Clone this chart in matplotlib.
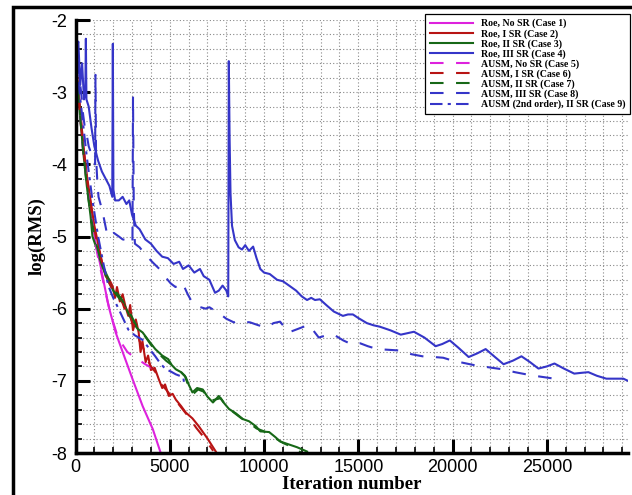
import matplotlib
matplotlib.use('Agg')
import matplotlib.pyplot as plt
from matplotlib.patches import Rectangle
from matplotlib.ticker import MultipleLocator

plt.rcParams['axes.unicode_minus'] = False

# ---- data (iteration, log(RMS)) ----
c1_x = [0, 200, 400, 600, 800, 1060, 1330, 1550, 1760, 2130, 2500, 3030, 3560, 4100, 4520]
c1_y = [-2.5, -3.1, -3.7, -4.2, -4.6, -5.08, -5.41, -5.7, -5.97, -6.33, -6.6, -6.98, -7.35, -7.67, -8.0]

c2_x = [0, 200, 400, 600, 800, 1000, 1200, 1400, 1600, 1800, 1970, 2100, 2200, 2350, 2500, 2650,
        2800, 2900, 3050, 3200, 3350, 3450, 3550, 3720, 3850, 4000, 4200, 4420, 4600, 4750, 4950,
        5150, 5320, 5600, 5850, 6200, 6540, 7000, 7440]
c2_y = [-2.6, -3.1, -3.7, -4.15, -4.5, -4.85, -5.1, -5.35, -5.55, -5.6, -5.69, -5.85, -5.7, -5.9, -5.8, -5.97,
        -6.1, -5.95, -6.3, -6.15, -6.33, -6.6, -6.45, -6.74, -6.65, -6.85, -6.82, -6.98, -7.1, -7.05, -7.21,
        -7.18, -7.26, -7.35, -7.44, -7.52, -7.63, -7.8, -7.98]

c3_x = [0, 200, 400, 600, 800, 900, 1100, 1400, 1700, 2000, 2300, 2600, 3030, 3300, 3560, 3900, 4230,
        4600, 4920, 5100, 5320, 5600, 5850, 6000, 6200, 6450, 6750, 7000, 7290, 7600, 7850, 8140, 8500,
        8880, 9200, 9570, 9800, 10270, 10600, 10850, 11300, 11750, 12280]
c3_y = [-2.5, -3.2, -3.8, -4.3, -4.72, -5.0, -5.15, -5.4, -5.6, -5.75, -5.85, -5.95, -6.19, -6.28, -6.33, -6.45, -6.56,
        -6.65, -6.7, -6.78, -6.84, -6.88, -6.95, -7.05, -7.16, -7.1, -7.12, -7.22, -7.3, -7.21, -7.3, -7.39, -7.45,
        -7.53, -7.56, -7.63, -7.7, -7.71, -7.78, -7.84, -7.88, -7.92, -7.98]

c4_x = [0, 80, 150, 250, 350, 450, 520, 550, 580, 700, 850, 1000, 1200, 1400, 1600, 1800, 1950, 1980, 2010,
        2100, 2300, 2500, 2700, 2850, 3000, 3200, 3400, 3700, 4000, 4300, 4600, 4900, 5200, 5500, 5700,
        6000, 6300, 6600, 6800, 7100, 7400, 7600, 7800, 8000, 8100, 8130, 8170, 8220, 8300, 8450, 8650,
        8830, 9000, 9200, 9420, 9600, 9800, 10000, 10300, 10690, 11000, 11380, 11700, 12000, 12280, 12500,
        12700, 12960, 13300, 13700, 14180, 14450, 14710, 15000, 15450, 15800, 16140, 16700, 17250, 17600,
        17950, 18500, 19100, 19450, 19850, 20300, 20850, 21300, 21750, 22200, 22700, 23200, 23650, 24100,
        24550, 25000, 25400, 25900, 26450, 26800, 27200, 27650, 28150, 28600, 29050, 29300]
c4_y = [-2.1, -2.4, -2.3, -2.9, -2.6, -3.1, -3.0, -2.26, -3.1, -3.2, -3.5, -3.75, -3.95, -4.1, -4.2, -4.3, -4.45, -2.33, -4.35,
        -4.5, -4.5, -4.45, -4.55, -4.5, -4.7, -4.85, -4.9, -5.04, -5.1, -5.2, -5.28, -5.3, -5.38, -5.35, -5.45,
        -5.4, -5.5, -5.45, -5.55, -5.6, -5.78, -5.75, -5.68, -5.75, -5.83, -2.57, -3.6, -4.4, -4.85, -5.05, -5.15,
        -5.18, -5.12, -5.2, -5.14, -5.3, -5.45, -5.5, -5.52, -5.6, -5.62, -5.69, -5.75, -5.83, -5.88, -5.85,
        -5.88, -5.87, -5.95, -6.04, -6.1, -6.08, -6.08, -6.13, -6.2, -6.23, -6.25, -6.3, -6.36, -6.34,
        -6.32, -6.4, -6.52, -6.49, -6.44, -6.54, -6.67, -6.62, -6.56, -6.66, -6.77, -6.72, -6.66, -6.74,
        -6.83, -6.8, -6.76, -6.83, -6.9, -6.89, -6.88, -6.93, -6.97, -6.97, -6.97, -7.0]

c5_x = [0, 200, 400, 600, 800, 1000, 1200, 1450, 1700, 1950, 2230, 2500, 2750, 3000, 3300, 3700, 4100, 4660]
c5_y = [-2.6, -3.2, -3.8, -4.25, -4.65, -5.0, -5.3, -5.6, -5.9, -6.15, -6.38, -6.5, -6.6, -6.65, -6.7, -6.77, -6.83, -6.92]

c6_x = [0, 200, 400, 600, 800, 1000, 1200, 1400, 1600, 1800, 2000, 2200, 2400, 2600, 2800, 3000, 3200,
        3400, 3600, 3800, 4000, 4300, 4550, 4800, 5100, 5400, 5700, 6000, 6400, 6800, 7300]
c6_y = [-2.7, -3.2, -3.75, -4.2, -4.55, -4.9, -5.15, -5.35, -5.5, -5.65, -5.75, -5.8, -5.85, -6.0, -5.95, -6.2, -6.25,
        -6.45, -6.55, -6.7, -6.8, -6.9, -7.05, -7.12, -7.22, -7.3, -7.4, -7.5, -7.65, -7.78, -7.97]

c7_x = [0, 200, 400, 600, 800, 1000, 1300, 1600, 2000, 2400, 2800, 3200, 3600, 4000, 4400, 4800, 5200,
        5600, 5800, 6000, 6250, 6500, 6800, 7100, 7400, 7700, 8000, 8400, 8800, 9200, 9600, 10000, 10500,
        11000, 11500, 12000]
c7_y = [-2.6, -3.2, -3.8, -4.3, -4.7, -5.0, -5.3, -5.5, -5.72, -5.85, -6.02, -6.22, -6.35, -6.5, -6.62, -6.72, -6.8,
        -6.88, -6.93, -7.08, -7.18, -7.12, -7.15, -7.28, -7.26, -7.24, -7.35, -7.44, -7.52, -7.58, -7.66, -7.7, -7.78,
        -7.86, -7.92, -8.0]

c8_x = [0, 100, 200, 300, 400, 500, 600, 700, 900, 1040, 1060, 1090, 1150, 1220, 1430, 1700, 2030, 2300,
        2500, 2700, 2900, 3020, 3050, 3090, 3150, 3400, 3700, 4100, 4450, 4790, 5050, 5300, 5670, 5950,
        6200, 6500, 6900, 7100, 7400, 7700, 8000, 8400, 8570, 8900, 9260, 9700, 10150, 10500, 10850,
        11300, 11800, 12100, 12400, 12900, 13300, 13700, 14200, 14700, 15100, 15500, 16000, 16600, 17200,
        17800, 18400, 19000, 19500, 20000, 20550, 21100, 21600, 22100, 22650, 23300, 23900, 24600, 25400]
c8_y = [-2.2, -2.5, -2.8, -3.0, -3.3, -3.5, -3.6, -3.75, -3.9, -4.0, -2.76, -3.9, -4.2, -4.45, -4.65, -5.0, -4.95, -5.0,
        -5.04, -5.05, -5.07, -5.1, -3.06, -4.6, -5.1, -5.15, -5.25, -5.36, -5.45, -5.57, -5.65, -5.7, -5.64, -5.8,
        -5.92, -5.97, -6.0, -5.98, -6.03, -6.08, -6.14, -6.19, -6.17, -6.18, -6.19, -6.23, -6.26, -6.2, -6.18,
        -6.33, -6.28, -6.25, -6.23, -6.4, -6.37, -6.36, -6.44, -6.5, -6.48, -6.52, -6.56, -6.57, -6.58,
        -6.63, -6.66, -6.67, -6.68, -6.72, -6.75, -6.78, -6.8, -6.82, -6.84, -6.88, -6.91, -6.94, -6.97]

c9_x = [0, 300, 600, 900, 1200, 1500, 1750, 2000, 2280, 2550, 2800, 3150, 3550, 3900, 4230, 4500, 4790,
        5050, 5320, 5720, 5750]
c9_y = [-2.5, -3.2, -3.9, -4.5, -5.0, -5.4, -5.69, -5.85, -6.0, -6.15, -6.29, -6.37, -6.43, -6.55, -6.66, -6.76, -6.84,
        -6.87, -6.91, -6.95, -7.02]

labels = ['Roe, No SR (Case 1)', 'Roe, I SR (Case 2)', 'Roe, II SR (Case 3)', 'Roe, III SR (Case 4)',
          'AUSM, No SR (Case 5)', 'AUSM, I SR (Case 6)', 'AUSM, II SR (Case 7)', 'AUSM, III SR (Case 8)',
          'AUSM (2nd order), II SR (Case 9)']

magenta = '#dd22dd'
red = '#b81414'
green = '#176817'
blue = '#3535c8'
dash = (6.5, 6)
dashdot = (6, 2.5, 1.5, 2.5)

fig = plt.figure(figsize=(6.32, 4.95), dpi=100)
ax = fig.add_axes([75.5 / 632, 42 / 495, (628 - 75.5) / 632, (453 - 20) / 495])

lw = 1.5
ax.plot(c1_x, c1_y, color=magenta, lw=lw, label=labels[0])
ax.plot(c2_x, c2_y, color=red, lw=lw, label=labels[1])
ax.plot(c3_x, c3_y, color=green, lw=lw, label=labels[2])
ax.plot(c4_x, c4_y, color=blue, lw=lw, label=labels[3])
ax.plot(c5_x, c5_y, color=magenta, lw=lw, dashes=dash, label=labels[4])
ax.plot(c6_x, c6_y, color=red, lw=lw, dashes=dash, label=labels[5])
ax.plot(c7_x, c7_y, color=green, lw=lw, dashes=dash, label=labels[6])
ax.plot(c8_x, c8_y, color=blue, lw=lw, dashes=dash, label=labels[7])
ax.plot(c9_x, c9_y, color=blue, lw=lw, dashes=dashdot, label=labels[8])

ax.set_xlim(0, 29300)
ax.set_ylim(-8, -2)
ax.xaxis.set_major_locator(MultipleLocator(5000))
ax.xaxis.set_minor_locator(MultipleLocator(1000))
ax.yaxis.set_major_locator(MultipleLocator(1))
ax.yaxis.set_minor_locator(MultipleLocator(0.2))
ax.grid(True, which='both', color='#888888', linestyle=(0, (1, 2)), lw=0.8)
ax.set_axisbelow(True)

for s in ['top', 'right']:
    ax.spines[s].set_visible(False)
for s in ['left', 'bottom']:
    ax.spines[s].set_linewidth(2.5)

ax.tick_params(which='major', direction='in', length=10, width=2.2, labelsize=13, pad=6)
ax.tick_params(which='minor', direction='in', length=4, width=1.2)
ax.tick_params(axis='x', pad=4)
for t in ax.get_xticklabels() + ax.get_yticklabels():
    t.set_family('Liberation Sans')

ax.set_xlabel('Iteration number', family='Liberation Serif', fontweight='bold', fontsize=13.5, labelpad=0)
ax.set_ylabel('log(RMS)', family='Liberation Serif', fontweight='bold', fontsize=13.5, labelpad=4)

leg = ax.legend(loc='upper right', bbox_to_anchor=(1.004, 1.014), borderaxespad=0,
                prop={'family': 'Liberation Serif', 'weight': 'bold', 'size': 7.1},
                handlelength=4.4, handletextpad=0.8, labelspacing=0.05, borderpad=0.5,
                fancybox=False, framealpha=1, edgecolor='black')
leg.get_frame().set_linewidth(0.9)

# outer frame of the picture
fig.patches.append(Rectangle((13 / 632, -0.02), 1.05, 1 - 7 / 495 + 0.02, transform=fig.transFigure,
                             fill=False, edgecolor='black', lw=2.5))

fig.savefig('out.png', dpi=100)
